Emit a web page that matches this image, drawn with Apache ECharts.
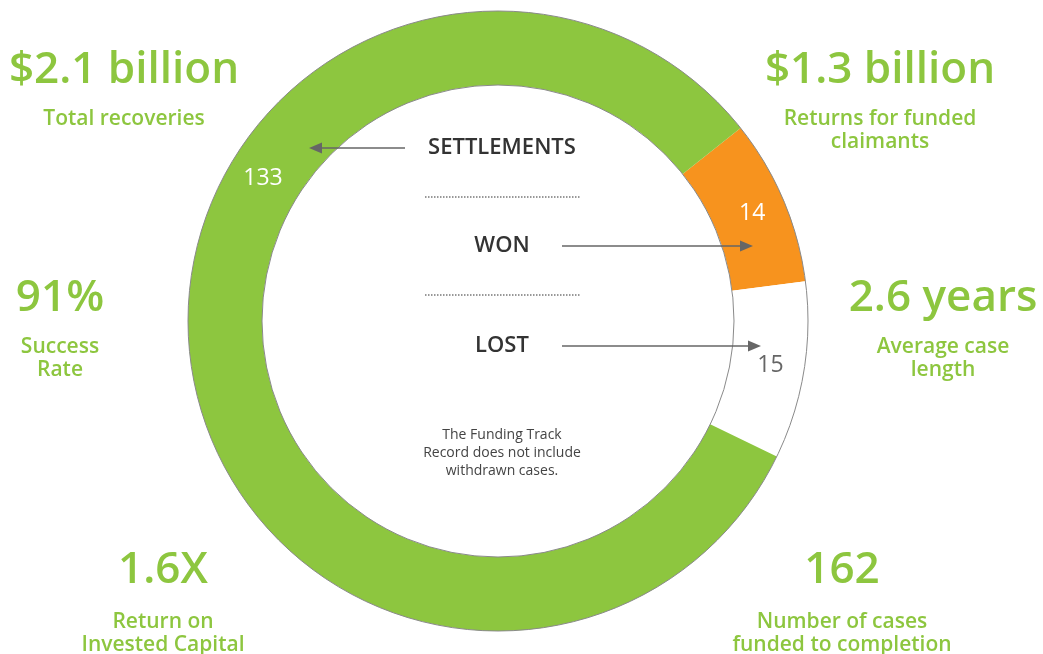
<!DOCTYPE html>
<html>
<head>
<meta charset="utf-8">
<script src="https://cdn.jsdelivr.net/npm/echarts@6/dist/echarts.min.js"></script>
<style>
html,body{margin:0;padding:0;background:#fff;}
#chart{width:1043px;height:654px;}
</style>
</head>
<body>
<div id="chart"></div>
<script>
// Data
const categories = ['WON', 'LOST', 'SETTLEMENTS'];
const values = [14, 15, 133];
const sliceColors = ['#f7931e', '#ffffff', '#8dc63f'];
const labelColors = ['#ffffff', '#666666', '#ffffff'];

const statValues = ['$2.1 billion', '$1.3 billion', '91%', '2.6 years', '1.6X', '162'];
const statLabels = ['Total recoveries', 'Returns for funded\nclaimants', 'Success\nRate', 'Average case\nlength', 'Return on\nInvested Capital', 'Number of cases\nfunded to completion'];
const note = 'The Funding Track\nRecord does not include\nwithdrawn cases.';

const chart = echarts.init(document.getElementById('chart'));
const CX = 498, CY = 321, R0 = 236, R1 = 310;
const GREEN = '#8dc63f';
const FONT = '"Open Sans", "Noto Sans", sans-serif';

// stat block positions
const statPos = [[124, 70], [880, 70], [60, 298], [943, 298], [163, 570], [842, 570]];
const subOffset = [38, 38, 38, 38, 41, 41];

const graphics = [];
statValues.forEach((v, i) => {
  const [x, y] = statPos[i];
  graphics.push({type: 'text', x: x, y: y, style: {text: v, fill: GREEN, font: '600 44px ' + FONT, textAlign: 'center', textVerticalAlign: 'middle'}});
  graphics.push({type: 'text', x: x, y: y + subOffset[i], style: {text: statLabels[i], fill: GREEN, font: '600 21px ' + FONT, lineHeight: 23, textAlign: 'center', textVerticalAlign: 'top'}});
});

// ring outline
graphics.push({type: 'ring', shape: {cx: CX, cy: CY, r: R1, r0: R0}, style: {fill: 'none', stroke: '#8a8a8a', lineWidth: 1}, z: 10, silent: true});

// centre labels
const catY = {SETTLEMENTS: 148, WON: 246, LOST: 346};
categories.forEach(c => {
  graphics.push({type: 'text', x: 502, y: catY[c], style: {text: c, fill: '#333', font: '600 22px ' + FONT, textAlign: 'center', textVerticalAlign: 'middle'}});
});
// dotted separators
[197, 295].forEach(y => {
  graphics.push({type: 'line', shape: {x1: 425, y1: y, x2: 580, y2: y}, style: {stroke: '#777', lineWidth: 1.5, lineDash: [1.5, 1.5]}});
});
// arrows
function arrow(x1, y, x2) {
  const dir = x2 > x1 ? 1 : -1;
  graphics.push({type: 'line', shape: {x1: x1, y1: y, x2: x2 - dir * 10, y2: y}, style: {stroke: '#666', lineWidth: 1.6}, z: 20});
  graphics.push({type: 'polygon', shape: {points: [[x2, y], [x2 - dir * 13, y - 5.5], [x2 - dir * 13, y + 5.5]]}, style: {fill: '#666'}, z: 20});
}
arrow(405, 148, 309);
arrow(562, 246, 753);
arrow(562, 346, 761);

// note
graphics.push({type: 'text', x: 502, y: 453, style: {text: note, fill: '#444', font: '14px ' + FONT, lineHeight: 18, textAlign: 'center', textVerticalAlign: 'middle'}});

// label for the large settlements slice (placed in upper-left of ring)
graphics.push({type: 'text', x: 263, y: 178, style: {text: String(values[2]), fill: labelColors[2], font: '23px ' + FONT, textAlign: 'center', textVerticalAlign: 'middle'}, z: 30});

chart.setOption({
  animation: false,
  backgroundColor: '#fff',
  series: [{
    type: 'pie',
    center: [CX, CY],
    radius: [R0, R1],
    startAngle: 38.5,
    clockwise: true,
    silent: true,
    label: {show: false},
    labelLine: {show: false},
    data: categories.map((c, i) => ({
      name: c,
      value: values[i],
      itemStyle: {color: sliceColors[i]},
      label: {
        show: i < 2,
        position: 'inside',
        formatter: '{c}',
        color: labelColors[i],
        fontSize: 23,
        fontFamily: FONT
      }
    }))
  }],
  graphic: graphics
});
</script>
</body>
</html>
